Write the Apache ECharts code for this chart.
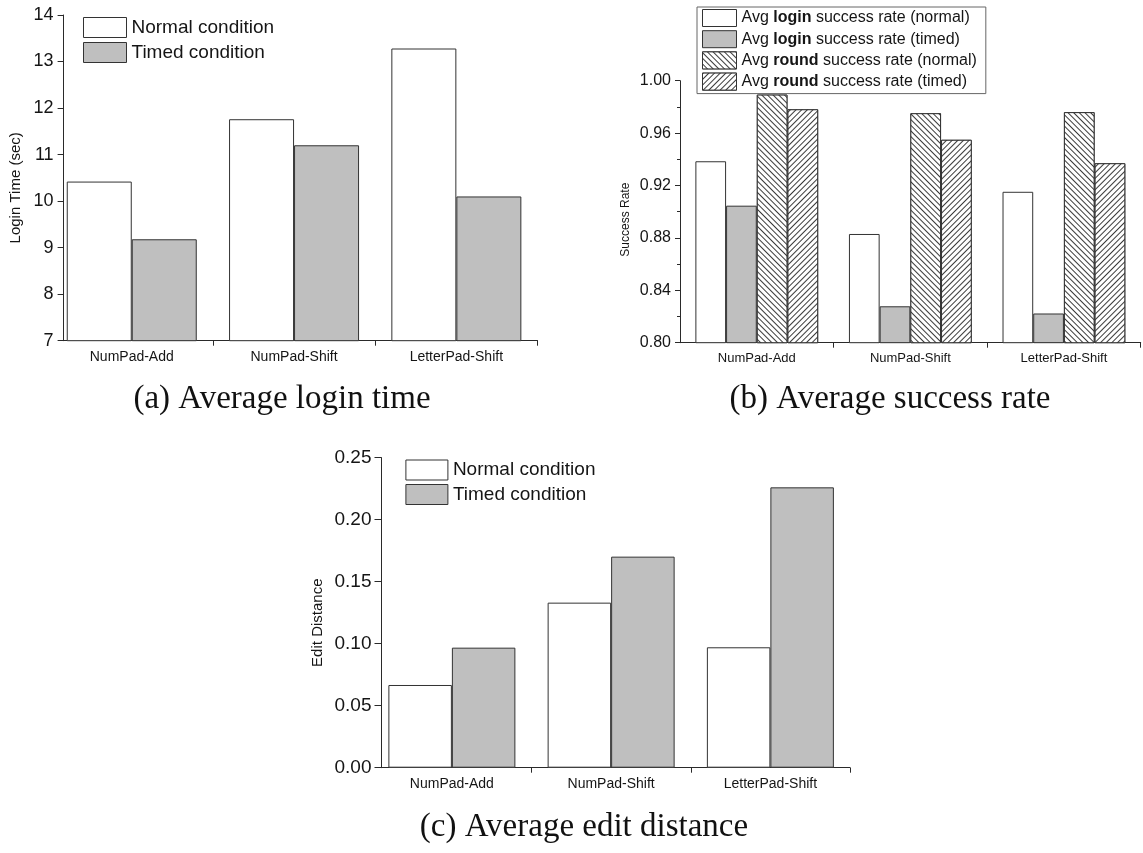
<!DOCTYPE html>
<html><head><meta charset="utf-8">
<script src="https://cdn.jsdelivr.net/npm/echarts@6/dist/echarts.min.js"></script>
<style>html,body{margin:0;padding:0;background:#fff}#c{width:1143px;height:853px}</style>
</head><body><div id="c"></div>
<script>
// ---------- data ----------
const categories = ['NumPad-Add', 'NumPad-Shift', 'LetterPad-Shift'];
const conditionNames = ['Normal condition', 'Timed condition'];

const loginTicks = [7, 8, 9, 10, 11, 12, 13, 14];
const loginNormal = [10.42, 11.76, 13.28];
const loginTimed = [9.18, 11.20, 10.10];

const successTicks = [0.80, 0.84, 0.88, 0.92, 0.96, 1.00];
const successNames = [
  'Avg login success rate (normal)',
  'Avg login success rate (timed)',
  'Avg round success rate (normal)',
  'Avg round success rate (timed)'
];
const loginRateNormal = [0.9385, 0.883, 0.9152];
const loginRateTimed = [0.9046, 0.8278, 0.8223];
const roundRateNormal = [0.9894, 0.9752, 0.976];
const roundRateTimed = [0.9782, 0.9549, 0.937];

const editTicks = [0.00, 0.05, 0.10, 0.15, 0.20, 0.25];
const editNormal = [0.0667, 0.1331, 0.0971];
const editTimed = [0.0968, 0.1702, 0.2261];

const captions = ['(a) Average login time', '(b) Average success rate', '(c) Average edit distance'];

// ---------- styling helpers ----------
const FONT = '"Liberation Sans", Arial, sans-serif';
const SERIF = '"Liberation Serif", "Times New Roman", serif';
const AX = '#2a2a2a';
const TXT = '#151515';
const GRAY = '#bfbfbf';

function xAxisFor(grid, min, max, fontSize) {
  return {
    type: 'value', gridIndex: grid, min: min, max: max,
    axisLine: { show: true, onZero: false, lineStyle: { color: AX, width: 1 } },
    splitLine: { show: false },
    axisTick: { show: true, customValues: [1.5, 2.5, 3.5], length: 5, lineStyle: { color: AX } },
    axisLabel: {
      show: true, customValues: [1, 2, 3],
      formatter: v => categories[Math.round(v) - 1],
      fontSize: fontSize, fontFamily: FONT, color: TXT, margin: 9
    }
  };
}
function yAxisFor(grid, ticks, decimals, o) {
  return {
    type: 'value', gridIndex: grid,
    min: ticks[0], max: ticks[ticks.length - 1], interval: ticks[1] - ticks[0],
    name: o.name, nameLocation: 'middle', nameGap: o.nameGap,
    nameTextStyle: { fontSize: o.nameSize, fontFamily: FONT, color: TXT, padding: o.namePad },
    axisLine: { show: true, lineStyle: { color: AX, width: 1 } },
    splitLine: { show: false },
    axisTick: { show: true, length: o.tickLen, lineStyle: { color: AX } },
    minorTick: { show: !!o.minor, splitNumber: 2, length: 3, lineStyle: { color: AX } },
    axisLabel: {
      fontSize: o.labelSize, fontFamily: FONT, color: TXT, margin: o.margin,
      formatter: v => v.toFixed(decimals)
    }
  };
}
function barSeries(name, values, axisIdx, width, style) {
  return {
    type: 'bar', name: name, xAxisIndex: axisIdx, yAxisIndex: axisIdx,
    barWidth: width, barGap: '0%', clip: true,
    data: values.map((v, i) => [i + 1, v]),
    itemStyle: Object.assign({ borderColor: '#333', borderWidth: 1 }, style),
    emphasis: { disabled: true }
  };
}
// "\\\\" hatch (normal) and "////" hatch (timed)
const hatchBack = { symbol: 'rect', symbolSize: 1, dashArrayX: [1, 0], dashArrayY: [1, 2.8], rotation: Math.PI / 4, color: '#3a3a3a', backgroundColor: '#fff' };
const hatchFwd = { symbol: 'rect', symbolSize: 1, dashArrayX: [1, 0], dashArrayY: [1, 2.8], rotation: -Math.PI / 4, color: '#3a3a3a', backgroundColor: '#fff' };

const white = { color: '#fff' };
const gray = { color: GRAY };
const legendItem = { borderWidth: 1, borderColor: '#333' };

const chart = echarts.init(document.getElementById('c'), null, { renderer: 'canvas' });
chart.setOption({
  animation: false,
  backgroundColor: '#fff',
  grid: [
    { left: 63.6, top: 15, width: 473.9, height: 325.7 },
    { left: 680, top: 80.7, width: 460.7, height: 262 },
    { left: 381.5, top: 457.7, width: 468.5, height: 310 }
  ],
  xAxis: [
    xAxisFor(0, 0.58, 3.5, 14),
    xAxisFor(1, 0.5, 3.5, 13),
    xAxisFor(2, 0.558, 3.5, 14)
  ],
  yAxis: [
    yAxisFor(0, loginTicks, 0, { name: 'Login Time (sec)', nameGap: 40, nameSize: 15, namePad: [0, 20, 0, 0], tickLen: 6, labelSize: 18, margin: 10 }),
    yAxisFor(1, successTicks, 2, { name: 'Success Rate', nameGap: 48, nameSize: 12, namePad: [0, 16, 0, 0], tickLen: 5, labelSize: 16, margin: 9, minor: true }),
    yAxisFor(2, editTicks, 2, { name: 'Edit Distance', nameGap: 56, nameSize: 15, namePad: [0, 20, 0, 0], tickLen: 7, labelSize: 19, margin: 10 })
  ],
  legend: [
    {
      data: conditionNames, orient: 'vertical', left: 83, top: 17, padding: 0,
      itemWidth: 43, itemHeight: 20, itemGap: 4, icon: 'rect', selectedMode: false,
      itemStyle: legendItem,
      textStyle: { fontSize: 19, fontFamily: FONT, color: TXT }
    },
    {
      data: successNames, orient: 'vertical', left: 697, top: 7, padding: [2, 9, 3, 5],
      borderColor: '#666', borderWidth: 1,
      itemWidth: 34, itemHeight: 17, itemGap: 3.2, icon: 'rect', selectedMode: false,
      itemStyle: legendItem,
      formatter: n => n.replace(/(login|round)/, '{b|$1}'),
      textStyle: {
        fontSize: 16, fontFamily: FONT, color: TXT,
        rich: { b: { fontSize: 16, fontFamily: FONT, fontWeight: 'bold', color: TXT } }
      }
    },
    {
      data: conditionNames, orient: 'vertical', left: 405.4, top: 459.5, padding: 0,
      itemWidth: 42, itemHeight: 20, itemGap: 3.5, icon: 'rect', selectedMode: false,
      itemStyle: legendItem,
      textStyle: { fontSize: 19, fontFamily: FONT, color: TXT }
    }
  ],
  series: [
    barSeries(conditionNames[0], loginNormal, 0, 65, white),
    barSeries(conditionNames[1], loginTimed, 0, 65, gray),
    barSeries(successNames[0], loginRateNormal, 1, 30.7, white),
    barSeries(successNames[1], loginRateTimed, 1, 30.7, gray),
    barSeries(successNames[2], roundRateNormal, 1, 30.7, { color: '#fff', decal: hatchBack }),
    barSeries(successNames[3], roundRateTimed, 1, 30.7, { color: '#fff', decal: hatchFwd }),
    barSeries(conditionNames[0], editNormal, 2, 63.5, white),
    barSeries(conditionNames[1], editTimed, 2, 63.5, gray)
  ],
  graphic: [
    { type: 'text', x: 282, y: 399.5, style: { text: captions[0], font: '33px ' + SERIF, fill: '#111', align: 'center', verticalAlign: 'middle' } },
    { type: 'text', x: 890, y: 399.5, style: { text: captions[1], font: '33px ' + SERIF, fill: '#111', align: 'center', verticalAlign: 'middle' } },
    { type: 'text', x: 584, y: 827.5, style: { text: captions[2], font: '33px ' + SERIF, fill: '#111', align: 'center', verticalAlign: 'middle' } }
  ]
});
</script>
</body></html>
